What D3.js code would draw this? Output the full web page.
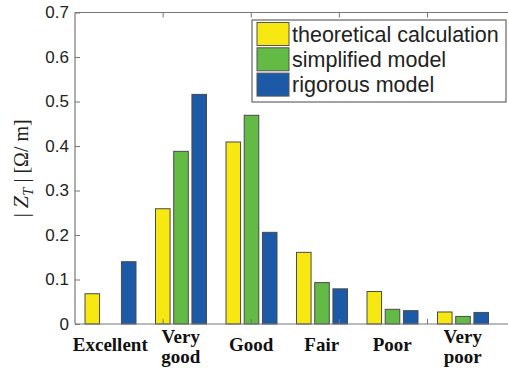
<!DOCTYPE html>
<html>
<head>
<meta charset="utf-8">
<script src="https://cdn.jsdelivr.net/npm/d3@7"></script>
<style>
  body { margin: 0; background: #fff; }
  svg { display: block; }
</style>
</head>
<body>
<div id="vis"></div>
<script>
const categories = [["Excellent"], ["Very", "good"], ["Good"], ["Fair"], ["Poor"], ["Very", "poor"]];
const seriesNames = ["theoretical calculation", "simplified model", "rigorous model"];
const theoretical = [0.068, 0.259, 0.409, 0.161, 0.073, 0.027];
const simplified = [0, 0.388, 0.469, 0.093, 0.033, 0.017];
const rigorous = [0.140, 0.516, 0.206, 0.079, 0.030, 0.026];
const yTicks = [0, 0.1, 0.2, 0.3, 0.4, 0.5, 0.6, 0.7];
const xTickValues = [1.75, 3, 4.25, 5.5];

const COLORS = ["#f7e812", "#63bb46", "#1c5aa8"];
const FRAME_WIDTH = 508;
const FRAME_HEIGHT = 371;
const MARGINS = {left: 75, right: 10, top: 12.5, bottom: 47};
const PLOT_RIGHT = 498;

const FRAME = d3.select("#vis")
  .append("svg")
    .attr("width", FRAME_WIDTH)
    .attr("height", FRAME_HEIGHT);

const Y_SCALE = d3.scaleLinear()
  .domain([0, 0.7])
  .range([FRAME_HEIGHT - MARGINS.bottom - 0, MARGINS.top]);

const X_SCALE = d3.scaleBand()
  .domain(d3.range(categories.length))
  .range([MARGINS.left, PLOT_RIGHT])
  .padding(0);

const X_LIN = d3.scaleLinear()
  .domain([0.5, categories.length + 0.5])
  .range([MARGINS.left, PLOT_RIGHT]);

const INNER = d3.scaleBand()
  .domain(d3.range(seriesNames.length))
  .range([10, X_SCALE.bandwidth() - 9.5])
  .paddingInner(0.2);

const series = [theoretical, simplified, rigorous];
const y0 = Y_SCALE(0);

// bars
series.forEach((vals, s) => {
  FRAME.append("g")
    .selectAll("rect")
    .data(vals.map((v, i) => ({v: v, i: i})).filter(d => d.v > 0))
    .enter()
    .append("rect")
      .attr("x", d => X_SCALE(d.i) + INNER(s))
      .attr("y", d => Y_SCALE(d.v))
      .attr("width", INNER.bandwidth())
      .attr("height", d => y0 - Y_SCALE(d.v))
      .attr("fill", COLORS[s])
      .attr("stroke", "#4a4a4a")
      .attr("stroke-width", 1);
});

// axes frame (left, bottom, top) - right side runs off the picture
const AX = "#777";
FRAME.append("line")
  .attr("x1", MARGINS.left).attr("x2", MARGINS.left)
  .attr("y1", MARGINS.top).attr("y2", y0)
  .attr("stroke", AX).attr("stroke-width", 1.2);
FRAME.append("line")
  .attr("x1", MARGINS.left).attr("x2", FRAME_WIDTH)
  .attr("y1", y0).attr("y2", y0)
  .attr("stroke", AX).attr("stroke-width", 1.2);
FRAME.append("line")
  .attr("x1", MARGINS.left).attr("x2", FRAME_WIDTH)
  .attr("y1", MARGINS.top).attr("y2", MARGINS.top)
  .attr("stroke", AX).attr("stroke-width", 1.2);

// y axis
const yAxis = FRAME.append("g")
  .attr("transform", "translate(" + MARGINS.left + ",0)")
  .call(d3.axisLeft(Y_SCALE).tickValues(yTicks).tickSize(-5).tickPadding(6)
    .tickFormat(d => d === 0 ? "0" : d3.format(".1f")(d)));
yAxis.select(".domain").remove();
yAxis.selectAll("line").attr("stroke", AX);
yAxis.selectAll("text")
  .attr("font-family", "Liberation Sans, Arial, sans-serif")
  .attr("font-size", "17px")
  .attr("fill", "#222");

// x ticks top and bottom
[[y0, -5], [MARGINS.top, 5]].forEach(([yy, len]) => {
  FRAME.append("g")
    .selectAll("line")
    .data(xTickValues)
    .enter()
    .append("line")
      .attr("x1", d => X_LIN(d)).attr("x2", d => X_LIN(d))
      .attr("y1", yy).attr("y2", yy + len)
      .attr("stroke", AX);
});

// category labels
const labels = FRAME.append("g")
  .selectAll("text")
  .data(categories)
  .enter()
  .append("text")
    .attr("x", (d, i) => X_SCALE(i) + X_SCALE.bandwidth() / 2)
    .attr("y", d => d.length > 1 ? 343 : 351)
    .attr("text-anchor", "middle")
    .attr("font-family", "Liberation Serif, Times New Roman, serif")
    .attr("font-weight", "bold")
    .attr("font-size", "19px")
    .attr("fill", "#111");
labels.each(function(d, i) {
  const t = d3.select(this);
  d.forEach((line, k) => {
    t.append("tspan")
      .attr("x", X_SCALE(i) + X_SCALE.bandwidth() / 2)
      .attr("dy", k === 0 ? 0 : 20)
      .text(line);
  });
});

// y axis title
const yt = FRAME.append("text")
  .attr("transform", "translate(28," + ((MARGINS.top + y0) / 2) + ") rotate(-90)")
  .attr("text-anchor", "middle")
  .attr("font-family", "Liberation Serif, Times New Roman, serif")
  .attr("font-size", "20px")
  .attr("fill", "#222");
yt.append("tspan").text("| ");
yt.append("tspan").attr("font-style", "italic").attr("font-size", "22px").text("Z");
yt.append("tspan").attr("font-style", "italic").attr("font-size", "15px").attr("dy", 5).text("T");
yt.append("tspan").attr("dy", -5).text(" | [Ω/ m]");

// legend
const LEG = {x: 252, y: 20, w: 254, h: 82};
const legend = FRAME.append("g");
legend.append("rect")
  .attr("x", LEG.x).attr("y", LEG.y)
  .attr("width", LEG.w).attr("height", LEG.h)
  .attr("fill", "#fff").attr("stroke", "#666").attr("stroke-width", 1.2);
seriesNames.forEach((name, s) => {
  const ry = LEG.y + 2.5 + s * 25.3;
  legend.append("rect")
    .attr("x", LEG.x + 5).attr("y", ry)
    .attr("width", 32).attr("height", 23)
    .attr("fill", COLORS[s]).attr("stroke", "#555");
  legend.append("text")
    .attr("x", LEG.x + 40).attr("y", ry + 19)
    .attr("font-family", "Liberation Sans, Arial, sans-serif")
    .attr("font-size", "21.5px")
    .attr("fill", "#222")
    .text(name);
});
</script>
</body>
</html>
